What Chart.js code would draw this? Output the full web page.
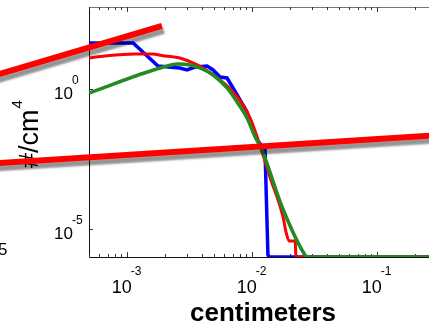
<!DOCTYPE html>
<html>
<head>
<meta charset="utf-8">
<script src="https://cdn.jsdelivr.net/npm/chart.js@4.4.1/dist/chart.umd.min.js"></script>
<style>
  body { margin: 0; background: #fff; }
  canvas { display: block; }
</style>
</head>
<body>
<canvas id="sizes" width="429" height="325"></canvas>
<script>
// measured curves, x in cm, y in #/cm^4
var blueX = [4.97e-4, 1.12e-3, 1.77e-3, 2.65e-3, 3.02e-3, 3.5e-3, 4.37e-3, 4.88e-3, 5.55e-3, 6.31e-3, 7.05e-3, 8.02e-3, 9.12e-3, 1.0e-2, 1.1e-2, 1.27e-2, 1.34e-2, 1.37e-2, 0.26];
var blueY = [44, 44, 6.65, 5.64, 4.79, 6.12, 6.65, 4.79, 2.69, 2.48, 1.09, 0.406, 0.151, 0.0406, 0.0151, 6.65e-3, 1.18e-6, 1e-6, 1e-6];

var redX = [4.97e-4, 6.67e-4, 1.16e-3, 1.585e-3, 2.01e-3, 2.65e-3, 3.37e-3, 4.06e-3, 5.55e-3, 7.05e-3, 8.47e-3, 9.64e-3, 1.12e-2, 1.39e-2, 1.77e-2, 1.87e-2, 1.98e-2, 2.21e-2, 2.25e-2, 0.26];
var redY = [12.8, 15.1, 17.8, 17.8, 15.1, 12.8, 8.51, 5.64, 2.1, 0.784, 0.269, 0.0925, 0.0151, 7.2e-4, 2.69e-5, 7.8e-6, 3.74e-6, 3.74e-6, 1e-6, 1e-6];

var greenX = [4.97e-4, 1.84e-3, 2.56e-3, 3.19e-3, 3.84e-3, 4.88e-3, 6.31e-3, 7.59e-3, 9.12e-3, 1.06e-2, 1.2e-2, 1.74e-2, 2.65e-2, 2.75e-2, 0.26];
var greenY = [0.722, 5.64, 7.83, 7.22, 5.64, 3.17, 1.09, 0.344, 0.0925, 0.0194, 6.65e-3, 6.12e-5, 1.18e-6, 1e-6, 1e-6];

// the two thick red guide lines that run off the axes
var fit1X = [6.67e-5, 1.905e-3];
var fit1Y = [2.12, 178.6];
var fit2X = [6.67e-5, 0.384];
var fit2Y = [2.05e-3, 0.024];

var xTickExp = [-3, -2, -1];
var yTickExp = [0, -5];

var FONT = '"Liberation Sans", Arial, sans-serif';

function pts(xs, ys) {
  return xs.map(function (v, i) { return {x: v, y: ys[i]}; });
}

var shadow = {
  id: 'shadow',
  beforeDatasetDraw: function (chart, args) {
    if (!chart.data.datasets[args.index].shadow) return;
    var ctx = chart.ctx;
    ctx.save();
    ctx.shadowColor = 'rgba(0,0,0,0.42)';
    ctx.shadowBlur = 2;
    ctx.shadowOffsetX = 2;
    ctx.shadowOffsetY = 5;
  },
  afterDatasetDraw: function (chart, args) {
    if (chart.data.datasets[args.index].shadow) chart.ctx.restore();
  }
};

var axes = {
  id: 'axes',
  beforeDatasetsDraw: function (chart) {
    var ctx = chart.ctx, a = chart.chartArea, x = chart.scales.x, y = chart.scales.y;
    ctx.save();
    ctx.lineWidth = 1;
    // frame
    ctx.strokeStyle = '#777';
    ctx.beginPath();
    ctx.moveTo(a.left, a.top + 0.5); ctx.lineTo(a.right, a.top + 0.5);
    ctx.stroke();
    ctx.strokeStyle = '#111';
    ctx.beginPath();
    ctx.moveTo(a.left + 0.5, a.top); ctx.lineTo(a.left + 0.5, a.bottom + 0.5);
    ctx.lineTo(a.right, a.bottom + 0.5);
    ctx.stroke();

    // inward ticks
    ctx.strokeStyle = '#333';
    ctx.beginPath();
    for (var e = -4; e <= 0; e++) {
      for (var k = 1; k < 10; k++) {
        var v = k * Math.pow(10, e);
        if (v < x.min || v > x.max) continue;
        var px = Math.round(x.getPixelForValue(v)) + 0.5;
        var len = k === 1 ? 5 : 3;
        ctx.moveTo(px, a.bottom); ctx.lineTo(px, a.bottom - len);
        ctx.moveTo(px, a.top); ctx.lineTo(px, a.top + len);
      }
    }
    yTickExp.forEach(function (ex) {
      var py = Math.round(y.getPixelForValue(Math.pow(10, ex))) + 0.5;
      ctx.moveTo(a.left, py); ctx.lineTo(a.left + 4, py);
    });
    ctx.stroke();

    // tick labels
    ctx.fillStyle = '#000';
    ctx.textBaseline = 'alphabetic';
    ctx.textAlign = 'left';
    xTickExp.forEach(function (ex) {
      var px = x.getPixelForValue(Math.pow(10, ex));
      ctx.font = '18px ' + FONT;
      var w1 = ctx.measureText('10').width;
      ctx.font = '12px ' + FONT;
      var w2 = ctx.measureText(String(ex)).width;
      var start = px - (w1 + w2) / 2;
      ctx.font = '18px ' + FONT;
      ctx.fillText('10', start, a.bottom + 36);
      ctx.font = '12px ' + FONT;
      ctx.fillText(String(ex), start + w1 - 1, a.bottom + 18);
    });
    yTickExp.forEach(function (ex) {
      var py = y.getPixelForValue(Math.pow(10, ex));
      ctx.font = '17px ' + FONT;
      ctx.textAlign = 'right';
      ctx.fillText('10', a.left - 16, py + 10);
      ctx.font = '12px ' + FONT;
      ctx.textAlign = 'left';
      ctx.fillText(String(ex), a.left - 17, py - 5);
    });

    // piece of the neighbouring panel's label
    ctx.font = '17px ' + FONT;
    ctx.fillText('5', -2, 255);

    // axis titles
    ctx.font = 'bold 26px ' + FONT;
    ctx.textAlign = 'center';
    ctx.fillText('centimeters', 263, 321);

    ctx.save();
    ctx.translate(38, 168);
    ctx.rotate(-Math.PI / 2);
    ctx.textAlign = 'left';
    ctx.font = '27px ' + FONT;
    var wt = ctx.measureText('#/cm').width;
    ctx.fillText('#/cm', 0, 0);
    ctx.font = '15px ' + FONT;
    ctx.fillText('4', wt + 1, -16);
    ctx.restore();

    ctx.restore();
  }
};

new Chart('sizes', {
  type: 'line',
  data: {
    datasets: [
      {data: pts(fit1X, fit1Y), borderColor: '#ff0000', borderWidth: 6, clip: false, shadow: true, borderCapStyle: 'butt'},
      {data: pts(fit2X, fit2Y), borderColor: '#ff0000', borderWidth: 6, clip: false, shadow: true, borderCapStyle: 'butt'},
      {data: pts(greenX, greenY), borderColor: '#228b22', borderWidth: 3.5, cubicInterpolationMode: 'monotone'},
      {data: pts(redX, redY), borderColor: '#ff0000', borderWidth: 3, cubicInterpolationMode: 'monotone'},
      {data: pts(blueX, blueY), borderColor: '#0000ff', borderWidth: 3.5}
    ]
  },
  options: {
    responsive: false,
    animation: false,
    devicePixelRatio: 1,
    layout: {padding: {left: 89, top: 7, right: 0, bottom: 68}},
    elements: {point: {radius: 0}, line: {fill: false, tension: 0}},
    plugins: {legend: {display: false}, tooltip: {enabled: false}, title: {display: false}},
    scales: {
      x: {type: 'logarithmic', min: 4.97e-4, max: 0.26, display: false},
      y: {type: 'logarithmic', min: 1e-6, max: 851, display: false}
    }
  },
  plugins: [axes, shadow]
});
</script>
</body>
</html>
